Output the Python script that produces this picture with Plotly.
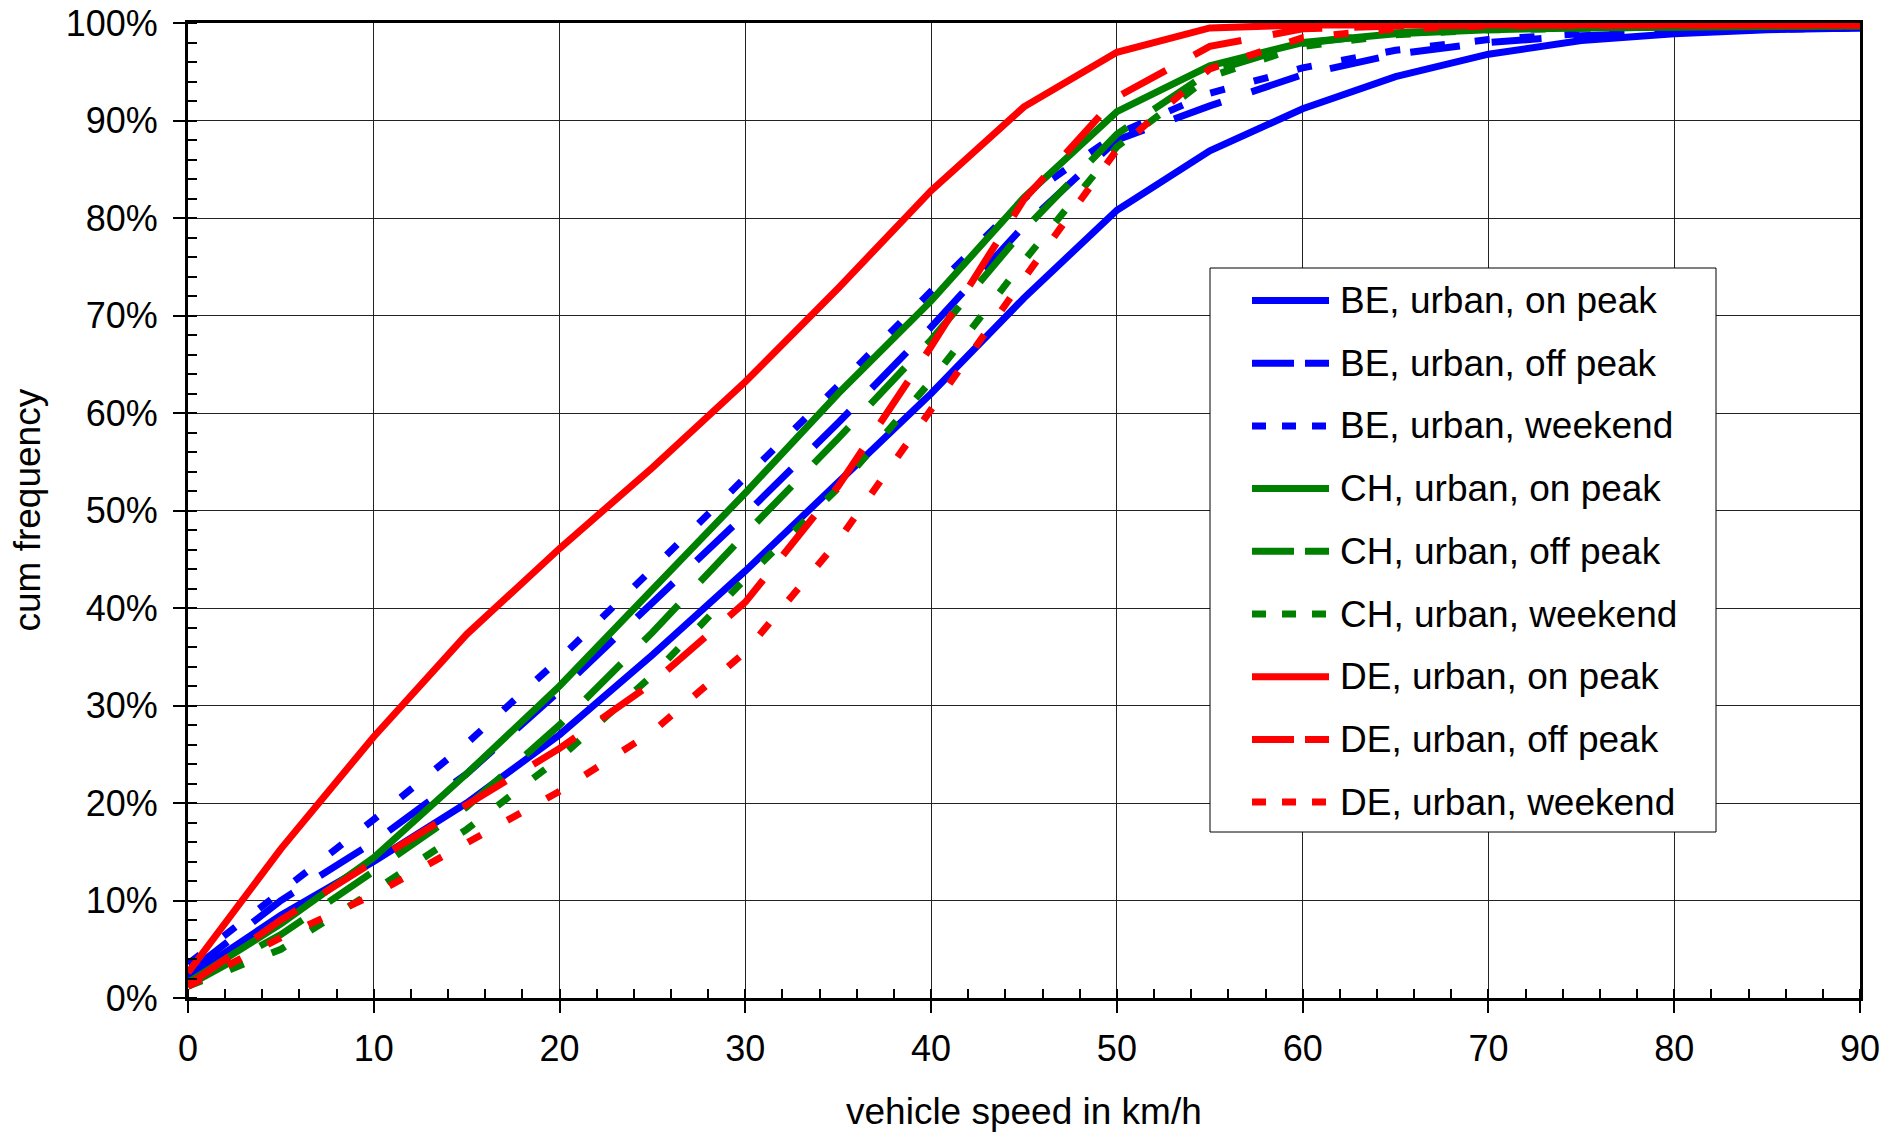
import plotly.graph_objects as go

# Vehicle speed classes (km/h)
speed = list(range(0, 95, 5))

# Cumulative frequency (%) per speed class
be_on_peak = [2.1, 8.5, 14.0, 20.0, 27.0, 35.2, 43.8, 52.8, 62.0, 71.8, 80.8, 86.9, 91.2, 94.5, 96.8, 98.2, 98.9, 99.3, 99.5]
be_off_peak = [2.6, 10.0, 16.0, 23.0, 31.5, 40.5, 49.6, 59.0, 68.8, 79.2, 88.0, 91.5, 94.7, 96.8, 98.0, 98.7, 99.1, 99.4, 99.5]
be_weekend = [3.5, 11.0, 18.3, 26.1, 34.8, 44.0, 53.4, 62.8, 72.5, 82.0, 88.6, 92.8, 95.4, 97.2, 98.3, 98.9, 99.2, 99.4, 99.5]
ch_on_peak = [1.6, 7.6, 14.4, 23.0, 32.0, 41.8, 51.8, 62.0, 71.5, 82.1, 90.9, 95.6, 98.0, 98.9, 99.3, 99.5, 99.6, 99.7, 99.7]
ch_off_peak = [1.3, 6.5, 13.0, 19.6, 28.0, 37.5, 47.6, 57.4, 67.5, 78.8, 88.6, 95.0, 97.9, 99.0, 99.4, 99.6, 99.7, 99.7, 99.7]
ch_weekend = [1.2, 5.0, 11.0, 17.3, 24.6, 33.1, 43.0, 52.3, 63.3, 75.6, 87.3, 94.5, 97.6, 98.8, 99.3, 99.5, 99.6, 99.7, 99.7]
de_on_peak = [2.6, 15.3, 26.8, 37.3, 46.1, 54.4, 63.2, 72.8, 82.8, 91.4, 97.0, 99.5, 99.8, 99.8, 99.8, 99.8, 99.8, 99.8, 99.8]
de_off_peak = [1.3, 8.0, 14.0, 19.8, 25.6, 32.3, 40.6, 52.5, 66.8, 81.9, 92.4, 97.6, 99.4, 99.7, 99.8, 99.8, 99.8, 99.8, 99.8]
de_weekend = [1.2, 6.2, 10.6, 15.8, 21.2, 27.3, 35.5, 46.9, 60.4, 73.8, 87.0, 95.3, 98.5, 99.4, 99.7, 99.8, 99.8, 99.8, 99.8]

x_ticks = list(range(0, 100, 10))
y_ticks = list(range(0, 110, 10))
y_tick_labels = [f"{v}%" for v in y_ticks]

BLUE, GREEN, RED = "#0000FF", "#008000", "#FF0000"
series = [
    ("BE, urban, on peak", be_on_peak, BLUE, "solid"),
    ("BE, urban, off peak", be_off_peak, BLUE, "long"),
    ("BE, urban, weekend", be_weekend, BLUE, "dot"),
    ("CH, urban, on peak", ch_on_peak, GREEN, "solid"),
    ("CH, urban, off peak", ch_off_peak, GREEN, "long"),
    ("CH, urban, weekend", ch_weekend, GREEN, "dot"),
    ("DE, urban, on peak", de_on_peak, RED, "solid"),
    ("DE, urban, off peak", de_off_peak, RED, "long"),
    ("DE, urban, weekend", de_weekend, RED, "dot"),
]
LINE_DASH = {"solid": "solid", "long": "50px,32px", "dot": "15px,30px"}
KEY_DASH = {"solid": "solid", "long": "42px,11px", "dot": "14px,16px"}

FONT = "Liberation Sans, Arial, sans-serif"
W, H = 1900, 1134
ML, MR, MT, MB = 188, 40, 23, 136
PW, PH = W - ML - MR, H - MT - MB


def px_x(px):
    return (px - ML) / PW


def px_y(py):
    return (H - MB - py) / PH


fig = go.Figure()
for name, vals, color, style in series:
    fig.add_trace(go.Scatter(
        x=speed, y=vals, mode="lines", name=name, showlegend=False,
        line=dict(color=color, width=7, dash=LINE_DASH[style]),
    ))

axis_common = dict(
    showgrid=True, gridcolor="#222222", gridwidth=1,
    showline=True, linecolor="#000000", linewidth=3, mirror=True,
    ticks="outside", ticklen=12, tickwidth=1.5, tickcolor="#000000",
    minor=dict(ticks="inside", ticklen=9, tickwidth=1.5, tickcolor="#000000", showgrid=False, dtick=2),
    tickfont=dict(family=FONT, size=36, color="#000000"),
    zeroline=False, automargin=False,
)

fig.update_layout(
    width=W, height=H,
    margin=dict(l=ML, r=MR, t=MT, b=MB, autoexpand=False),
    paper_bgcolor="white", plot_bgcolor="white",
    font=dict(family=FONT, color="#000000"),
    xaxis=dict(range=[0, 90], tickmode="array", tickvals=x_ticks, ticklabelstandoff=5, **axis_common),
    yaxis=dict(range=[0, 100], tickmode="array", tickvals=y_ticks, ticktext=y_tick_labels,
               ticklabelstandoff=8, **axis_common),
)

# Axis titles
fig.add_annotation(text="vehicle speed in km/h", xref="paper", yref="paper", x=0.5, y=0,
                   xanchor="center", yanchor="middle", yshift=-113, showarrow=False,
                   font=dict(family=FONT, size=37, color="#000000"))
fig.add_annotation(text="cum frequency", xref="paper", yref="paper", x=0, y=0.5,
                   xanchor="center", yanchor="middle", xshift=-161, textangle=-90, showarrow=False,
                   font=dict(family=FONT, size=37, color="#000000"))

# Legend box with line keys
fig.add_shape(type="rect", xref="paper", yref="paper",
              x0=px_x(1210), x1=px_x(1716), y0=px_y(832), y1=px_y(268),
              line=dict(color="#000000", width=1), fillcolor="white", layer="above")
for i, (name, vals, color, style) in enumerate(series):
    yk = px_y(300.5 + i * 62.7)
    fig.add_shape(type="line", xref="paper", yref="paper",
                  x0=px_x(1252), x1=px_x(1329), y0=yk, y1=yk,
                  line=dict(color=color, width=7, dash=KEY_DASH[style]), layer="above")
    fig.add_annotation(text=name, xref="paper", yref="paper", x=px_x(1338), y=yk,
                       xanchor="left", yanchor="middle", showarrow=False,
                       font=dict(family=FONT, size=37, color="#000000"))

fig.write_html("out.html")
